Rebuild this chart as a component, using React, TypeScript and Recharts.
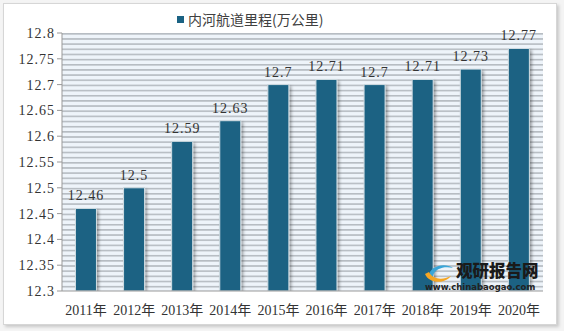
import { BarChart, Bar, XAxis, YAxis, CartesianGrid, LabelList } from 'recharts'

const years = ['2011年', '2012年', '2013年', '2014年', '2015年', '2016年', '2017年', '2018年', '2019年', '2020年']
const mileage = [12.46, 12.5, 12.59, 12.63, 12.7, 12.71, 12.7, 12.71, 12.73, 12.77]
const yTicks = [12.3, 12.35, 12.4, 12.45, 12.5, 12.55, 12.6, 12.65, 12.7, 12.75, 12.8]
const seriesName = '内河航道里程(万公里)'

const data = years.map((year, i) => ({ year, value: mileage[i] }))

const serif = '"Liberation Serif", "Noto Sans CJK SC", serif'
const barColor = '#1a6283'

export default function App() {
  return (
    <div style={{ position: 'fixed', left: 0, top: 0, width: 564, height: 331, background: '#f4f4f4' }}>
      {/* patterns / shadow shared by the chart */}
      <svg width={0} height={0} style={{ position: 'absolute' }}>
        <defs>
          <pattern id="stripes" patternUnits="userSpaceOnUse" x={0} y={33} width={10} height={5.16}>
            <rect x={0} y={0} width={10} height={5.16} fill="#eef4fa" />
            <rect x={0} y={0} width={10} height={1.6} fill="#b6bcc2" />
          </pattern>
          <filter id="barShadow" x="-30%" y="-10%" width="160%" height="120%">
            <feDropShadow dx={2} dy={2} stdDeviation={1.5} floodColor="#000" floodOpacity={0.35} />
          </filter>
        </defs>
      </svg>
      <div
        style={{
          position: 'absolute',
          left: 3,
          top: 3,
          width: 552,
          height: 320,
          background: '#fff',
          border: '1px solid #d6d6d6',
          boxShadow: '2px 2px 3px rgba(0,0,0,0.18)',
        }}
      />
      <div style={{ position: 'absolute', left: 0, top: 0 }}>
        <BarChart width={564} height={331} data={data} margin={{ top: 33, right: 21, left: 0, bottom: 12 }} barCategoryGap="28%">
          <CartesianGrid fill="url(#stripes)" stroke="none" horizontal={false} vertical={false} />
          <XAxis
            dataKey="year"
            height={28}
            tickLine={false}
            axisLine={{ stroke: '#999' }}
            tick={{ fontSize: 14, fill: '#333', fontFamily: serif }}
            tickMargin={8}
            interval={0}
          />
          <YAxis
            width={62}
            domain={[12.3, 12.8]}
            ticks={yTicks}
            interval={0}
            allowDataOverflow
            axisLine={{ stroke: '#999' }}
            tickLine={{ stroke: '#999' }}
            tickSize={5}
            tick={{ fontSize: 14, fill: '#333', fontFamily: serif, letterSpacing: 1 }}
            tickFormatter={(v: number) => String(v)}
          />
          <Bar
            dataKey="value"
            name={seriesName}
            fill={barColor}
            stroke="#d2dde3"
            strokeWidth={1}
            filter="url(#barShadow)"
            isAnimationActive={false}
          >
            <LabelList
              dataKey="value"
              position="top"
              offset={8}
              style={{ fontSize: 14, fill: '#333', fontFamily: serif, letterSpacing: 1 }}
            />
          </Bar>
        </BarChart>
      </div>
      {/* legend */}
      <div
        style={{
          position: 'absolute',
          left: 177,
          top: 10,
          display: 'flex',
          alignItems: 'center',
          fontFamily: '"Noto Sans CJK SC", sans-serif',
          fontSize: 14,
          lineHeight: '18px',
          color: '#404040',
        }}
      >
        <span style={{ display: 'inline-block', width: 7, height: 7, background: barColor, marginRight: 4 }} />
        {seriesName}
      </div>
      {/* watermark */}
      <div
        style={{
          position: 'absolute',
          left: 456,
          top: 261,
          fontFamily: '"Noto Sans CJK SC", sans-serif',
          fontWeight: 900,
          fontSize: 16.5,
          lineHeight: '19px',
          color: '#1a1a1a',
        }}
      >
        观研报告网
      </div>
      <div
        style={{
          position: 'absolute',
          left: 425,
          top: 282,
          fontFamily: '"DejaVu Sans", sans-serif',
          fontWeight: 'bold',
          fontSize: 8.5,
          lineHeight: '10px',
          color: '#222',
        }}
      >
        www.chinabaogao.com
      </div>
      <svg style={{ position: 'absolute', left: 423, top: 258 }} width={32} height={26}>
        <path d="M6 18 C 6 8, 22 4, 30 10 C 22 8, 12 10, 10 18 Z" fill="#3aa6d8" />
        <path d="M2 16 C 6 26, 22 26, 28 18 C 20 22, 10 22, 6 14 Z" fill="#f5a623" />
      </svg>
    </div>
  )
}
